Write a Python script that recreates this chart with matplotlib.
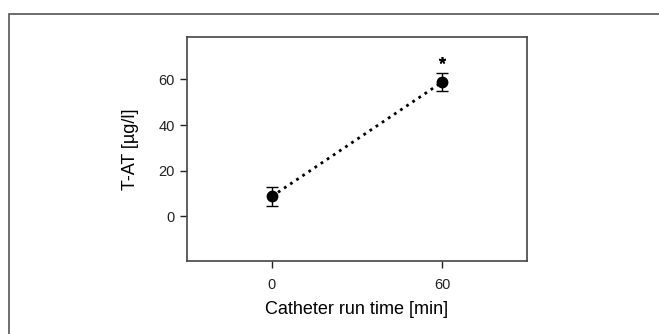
import numpy as np
import matplotlib.pyplot as plt
from matplotlib.patches import Rectangle

# T-AT over catheter run time
time_min = [0, 60]
tat_mean = [8.7, 58.8]
tat_err = [4.2, 3.9]
star_x = [60]
star_y = [68.5]

plt.rcParams['font.family'] = ['Liberation Sans', 'DejaVu Sans']

W, H = 659, 334
fig = plt.figure(figsize=(W / 100, H / 100), dpi=100)

# outer grey frame of the figure panel (right and bottom edges cut off)
fig.patches.append(Rectangle((9 / W, -0.2), 1.2, 1.2 - 14 / H, transform=fig.transFigure,
                             fill=False, edgecolor='#555555', linewidth=1.2))

ax = fig.add_axes([186.7 / W, 1 - 261 / H, (527.3 - 186.7) / W, (261 - 36.7) / H])

ax.plot(time_min, tat_mean, linestyle=':', color='black', linewidth=2)
ax.errorbar(time_min, tat_mean, yerr=tat_err, fmt='o', color='black',
            markersize=7.5, capsize=4.5, elinewidth=1, capthick=1)
ax.plot(star_x, star_y, marker=(5, 2, 0), color='black', markersize=5,
        linestyle='none', markeredgewidth=1.2)

ax.set_xlim(-30, 90)
ax.set_ylim(-19.6, 78.7)
ax.set_xticks(time_min)
ax.set_yticks([0, 20, 40, 60])
ax.tick_params(direction='out', length=5, width=1, labelsize=10.5, colors='#222222')
ax.tick_params(axis='x', pad=7)
for s in ax.spines.values():
    s.set_color('#444444')
    s.set_linewidth(1.2)

ax.set_ylabel('T-AT [µg/l]', fontsize=13, labelpad=14)
ax.set_xlabel('Catheter run time [min]', fontsize=13, labelpad=7)

fig.savefig('out.png', dpi=100)
